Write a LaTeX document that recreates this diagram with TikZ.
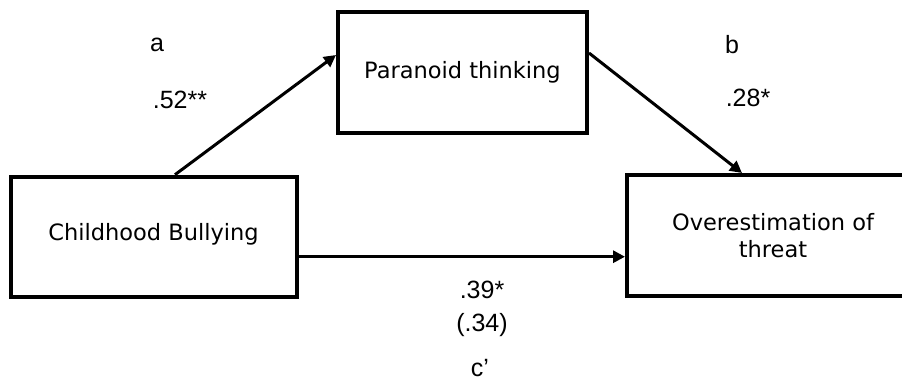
\documentclass[tikz,border=0pt]{standalone}
\usepackage{fontspec}
\setmainfont{Liberation Sans}
\newfontfamily\boxfont{DejaVu Sans}
\usepackage{tikz}
\usetikzlibrary{arrows.meta,positioning,calc}
\tikzset{
  var/.style={draw,line width=4pt,align=center,inner sep=0pt,
              font=\boxfont\fontsize{22.5}{26.5}\selectfont},
  coef/.style={font=\fontsize{25}{29}\selectfont,inner sep=1pt},
  ar/.style={-{Triangle[length=12pt,width=12pt]},line width=3pt}
}

\begin{document}
\begin{tikzpicture}[x=1pt,y=-1pt]
  \useasboundingbox (0,0) rectangle (902,383);
  \clip (0,0) rectangle (902,383);

  \node[var,minimum width=249pt,minimum height=121pt] (para) at (462.5,72.5)
    {\raisebox{-16pt}{Paranoid thinking}};
  \node[var,minimum width=286pt,minimum height=120pt] (bully) at (153.5,236.7)
    {\raisebox{9pt}{Childhood Bullying}};
  \node[var,minimum width=292pt,minimum height=121pt] (threat) at (773,235.5)
    {Overestimation of\\threat};

  % paths a, b and c'
  \draw[ar] ([xshift=21.5pt]bully.north) -- ([yshift=17.5pt]para.west);
  \draw[ar] ([yshift=19.5pt]para.east) -- ([xshift=-31pt]threat.north);
  \draw[ar] ([yshift=-20pt]bully.east) -- ([yshift=-20pt]bully.east -| threat.west);

  \node[coef] (la) at (157,45) {a};
  \node[coef] (va) at (180,100) {.52**};
  \node[coef] (lb) at (732,45) {b};
  \node[coef] (vb) at (748,98) {.28*};
  \node[coef] (vc) at (482,290) {.39*};
  \node[coef] (vcc) at (482,325) {(.34)};
  \node[coef] (lc) at (480,368) {c’};
\end{tikzpicture}
\end{document}
